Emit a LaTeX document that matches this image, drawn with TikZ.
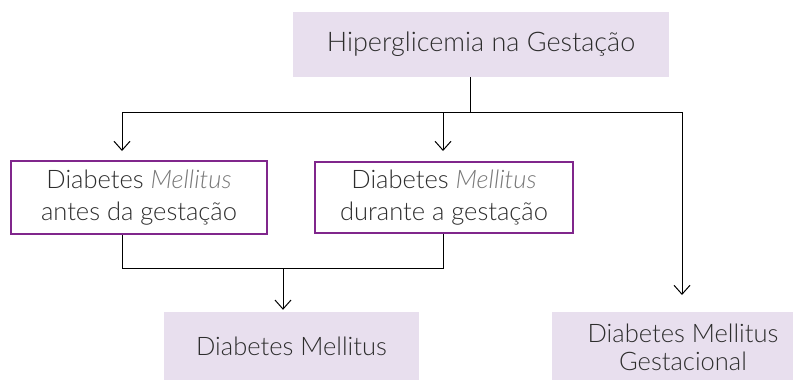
\documentclass[tikz,border=0pt]{standalone}
\usepackage{fontspec}
\setmainfont{Lato}[UprightFont={* Light}, ItalicFont={* Light Italic}]
\usetikzlibrary{arrows.meta}
\definecolor{lav}{RGB}{232,223,238}
\definecolor{frm}{RGB}{128,38,140}
\definecolor{txt}{RGB}{45,45,45}
\definecolor{itl}{RGB}{120,120,120}
\tikzset{
  filledbox/.style={fill=lav, draw=none, inner sep=0pt, text=txt, align=center},
  framebox/.style={draw=frm, line width=2pt, fill=white, inner sep=0pt, text=txt, align=center},
  conn/.style={line width=1pt, black},
  arr/.style={conn, -{Straight Barb[length=9pt,width=16pt,line width=1pt]}},
}
\begin{document}
\begin{tikzpicture}[x=1pt,y=-1pt]
\useasboundingbox (0,0) rectangle (793,380);
\fill[white] (0,0) rectangle (793,380);
\node[filledbox, minimum width=376pt, minimum height=65pt, font=\fontsize{27}{32}\selectfont] (top) at (481,44.5) {Hiperglicemia na Gestação};
\node[framebox, minimum width=256pt, minimum height=73pt, font=\fontsize{25.5}{32}\selectfont] (L) at (139,197.5) {Diabetes \textcolor{itl}{\itshape Mellitus}\\antes da gestação};
\node[framebox, minimum width=258pt, minimum height=71pt, font=\fontsize{25.5}{32}\selectfont] (M) at (444,197.5) {Diabetes \textcolor{itl}{\itshape Mellitus}\\durante a gestação};
\node[filledbox, minimum width=255pt, minimum height=68pt, font=\fontsize{25.5}{30}\selectfont] (D) at (291.5,346) {Diabetes Mellitus};
\fill[lav] (552,312) rectangle (793,380);
\node[anchor=center, inner sep=0pt, text=txt, align=center, font=\fontsize{25.5}{28}\selectfont] (G) at (683,347) {Diabetes Mellitus\\Gestacional};
\coordinate (Gtop) at (683,312);
\coordinate (tj) at (470,112);
\coordinate (hl) at (122,112);
\coordinate (hm) at (443,112);
\coordinate (hr) at (682,112);
\coordinate (bl) at (122,268);
\coordinate (bm) at (443,268);
\coordinate (bj) at (283,268);
\draw[conn] (tj |- top.south) -- (tj);
\draw[conn] (hl) -- (hr);
\draw[arr, shorten >=9pt] (hl) -- (hl |- L.north);
\draw[arr, shorten >=10pt] (hm) -- (hm |- M.north);
\draw[arr, shorten >=17pt] (hr) -- (hr |- Gtop);
\draw[conn] (bl |- L.south) -- (bl) -- (bm) -- (bm |- M.south);
\draw[arr, shorten >=2pt] (bj) -- (bj |- D.north);
\end{tikzpicture}
\end{document}
